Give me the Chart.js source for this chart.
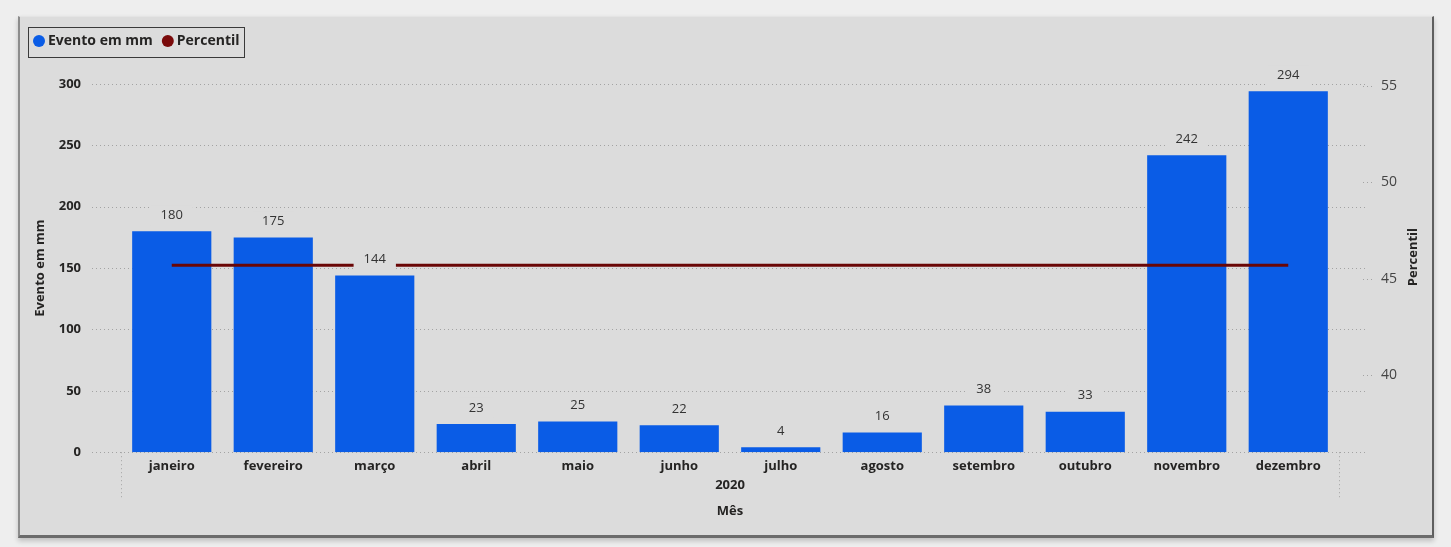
<!DOCTYPE html>
<html>
<head>
<meta charset="utf-8">
<script src="https://cdn.jsdelivr.net/npm/chart.js@4.4.1/dist/chart.umd.min.js"></script>
<style>
  html, body { margin: 0; padding: 0; background: #eeeeee; }
  .card {
    position: absolute; left: 18px; top: 16px; width: 1412px; height: 518px;
    background: #dcdcdc;
    border-left: 2px solid #8c8c8c; border-right: 2px solid #5f5f5f;
    border-bottom: 3px solid #6b6b6b; border-top: 1px solid #e4e4e4;
    box-shadow: 0 3px 5px rgba(0, 0, 0, .2);
  }
  canvas { display: block; }
</style>
</head>
<body>
<div class="card"><canvas id="chart"></canvas></div>
<script>
const months = ['janeiro', 'fevereiro', 'março', 'abril', 'maio', 'junho',
                'julho', 'agosto', 'setembro', 'outubro', 'novembro', 'dezembro'];
const yearLabels = ['2020'];
const eventoMm = [180, 175, 144, 23, 25, 22, 4, 16, 38, 33, 242, 294];
const percentil = [45.7, 45.7, 45.7, 45.7, 45.7, 45.7, 45.7, 45.7, 45.7, 45.7, 45.7, 45.7];
const leftTicks = [0, 50, 100, 150, 200, 250, 300];
const rightTicks = [40, 45, 50, 55];

const BG = '#dcdcdc';
const TEXT = '#252423';
const FONT = '"Open Sans", "Noto Sans", sans-serif';

// dotted gridlines that run past the plot area, like the original
const gridPlugin = {
    id: 'gridPlugin',
    beforeDatasetsDraw(chart) {
        const { ctx, chartArea } = chart;
        const y = chart.scales.y, y1 = chart.scales.y1;
        ctx.save();
        ctx.strokeStyle = '#a3a3a3';
        ctx.lineWidth = 1;
        ctx.setLineDash([1, 3]);
        y.ticks.forEach(t => {
            const py = Math.round(y.getPixelForValue(t.value)) + 0.5;
            ctx.beginPath();
            ctx.moveTo(chartArea.left - 29, py);
            ctx.lineTo(chartArea.right + 29, py);
            ctx.stroke();
        });
        y1.ticks.forEach(t => {
            const py = Math.round(y1.getPixelForValue(t.value)) + 0.5;
            ctx.beginPath();
            ctx.moveTo(chartArea.right + 24, py);
            ctx.lineTo(chartArea.right + 33, py);
            ctx.stroke();
        });
        [chartArea.left, chartArea.right].forEach(px => {
            ctx.beginPath();
            ctx.moveTo(Math.round(px) + 0.5, chartArea.bottom);
            ctx.lineTo(Math.round(px) + 0.5, chartArea.bottom + 46);
            ctx.stroke();
        });
        ctx.restore();
    },
    afterDraw(chart) {
        // right axis title reads bottom-to-top in the original
        const { ctx, chartArea } = chart;
        ctx.save();
        ctx.translate(chartArea.right + 74, (chartArea.top + chartArea.bottom) / 2 - 11);
        ctx.rotate(-Math.PI / 2);
        ctx.font = 'bold 13px ' + FONT;
        ctx.fillStyle = TEXT;
        ctx.textAlign = 'center';
        ctx.textBaseline = 'middle';
        ctx.fillText('Percentil', 0, 0);
        ctx.restore();
    }
};

// value labels with a background that hides lines behind them
const valueLabels = {
    id: 'valueLabels',
    afterDatasetsDraw(chart) {
        const { ctx } = chart;
        const meta = chart.getDatasetMeta(0);
        ctx.save();
        ctx.font = '13px ' + FONT;
        ctx.textAlign = 'center';
        ctx.textBaseline = 'middle';
        meta.data.forEach((bar, i) => {
            const txt = String(eventoMm[i]);
            const w = ctx.measureText(txt).width + 20;
            const cy = bar.y - 16;
            ctx.fillStyle = BG;
            ctx.fillRect(bar.x - w / 2, cy - 10, w, 20);
            ctx.fillStyle = '#333333';
            ctx.fillText(txt, bar.x, cy);
        });
        ctx.restore();
    }
};

// legend: fixed height and a frame around it
const legendFrame = {
    id: 'legendFrame',
    beforeLayout(chart) {
        const lg = chart.legend;
        if (lg && !lg._fixed) {
            const fit = lg.fit;
            lg.fit = function () { fit.call(this); this.height = 63; };
            lg._fixed = true;
        }
    },
    afterDraw(chart) {
        const boxes = chart.legend.legendHitBoxes;
        if (!boxes || !boxes.length) return;
        const { ctx } = chart;
        const left = Math.min(...boxes.map(b => b.left)) - 9;
        const right = Math.max(...boxes.map(b => b.left + b.width)) + 4;
        const top = boxes[0].top - 7;
        const bottom = boxes[0].top + boxes[0].height + 9;
        ctx.save();
        ctx.strokeStyle = '#3a3a3a';
        ctx.lineWidth = 1;
        ctx.strokeRect(Math.round(left) + 0.5, Math.round(top) + 0.5, Math.round(right - left), Math.round(bottom - top));
        ctx.restore();
    }
};

new Chart(document.getElementById('chart'), {
    type: 'bar',
    data: {
        labels: months,
        datasets: [{
            type: 'bar',
            label: 'Evento em mm',
            data: eventoMm,
            backgroundColor: '#0a5ce6',
            borderWidth: 0,
            barPercentage: 0.78,
            categoryPercentage: 1,
            xAxisID: 'x',
            yAxisID: 'y',
            order: 1
        }, {
            type: 'line',
            label: 'Percentil',
            data: percentil,
            borderColor: '#6a0606',
            backgroundColor: '#7a0a0a',
            borderWidth: 3,
            pointRadius: 0,
            xAxisID: 'x',
            yAxisID: 'y1',
            order: 0
        }]
    },
    options: {
        responsive: true,
        maintainAspectRatio: false,
        animation: false,
        layout: { padding: { left: 4, top: 4, right: 0, bottom: 12 } },
        plugins: {
            tooltip: { enabled: false },
            legend: {
                position: 'top',
                align: 'start',
                labels: {
                    usePointStyle: true,
                    pointStyle: 'circle',
                    boxWidth: 4,
                    boxHeight: 8.5,
                    padding: 13,
                    color: TEXT,
                    font: { family: FONT, size: 14, weight: 'bold' },
                    sort: (a, b) => a.datasetIndex - b.datasetIndex,
                    generateLabels: chart => Chart.defaults.plugins.legend.labels
                        .generateLabels(chart).map(l => ({ ...l, lineWidth: 0 }))
                }
            }
        },
        scales: {
            x: {
                type: 'category',
                offset: true,
                grid: { display: false, drawTicks: false },
                border: { display: false },
                ticks: {
                    autoSkip: false, maxRotation: 0, padding: 6, color: TEXT,
                    font: { family: FONT, size: 13, weight: 'bold' }
                }
            },
            x2: {
                type: 'category',
                position: 'bottom',
                labels: yearLabels,
                offset: true,
                grid: { display: false, drawTicks: false },
                border: { display: false },
                ticks: { padding: -2, color: TEXT, font: { family: FONT, size: 13, weight: 'bold' } },
                title: {
                    display: true, text: 'Mês', color: TEXT,
                    padding: { top: 12, bottom: 4 },
                    font: { family: FONT, size: 13, weight: 'bold' }
                }
            },
            y: {
                position: 'left',
                min: 0,
                max: 300,
                afterBuildTicks: s => { s.ticks = leftTicks.map(v => ({ value: v })); },
                afterFit: s => { s.width = 97; },
                grid: { display: false, drawTicks: false },
                border: { display: false },
                ticks: { padding: 40, color: TEXT, font: { family: FONT, size: 13, weight: 'bold' } },
                title: {
                    display: true, text: 'Evento em mm', color: TEXT,
                    padding: { top: 8, bottom: 0 },
                    font: { family: FONT, size: 13, weight: 'bold' }
                }
            },
            y1: {
                position: 'right',
                min: 36,
                max: 55.1,
                afterBuildTicks: s => { s.ticks = rightTicks.map(v => ({ value: v })); },
                afterFit: s => { s.width = 93; },
                grid: { display: false, drawTicks: false },
                border: { display: false },
                ticks: { padding: 42, color: '#444444', font: { family: FONT, size: 14 } },
                title: { display: false }
            }
        }
    },
    plugins: [gridPlugin, valueLabels, legendFrame]
});
</script>
</body>
</html>
